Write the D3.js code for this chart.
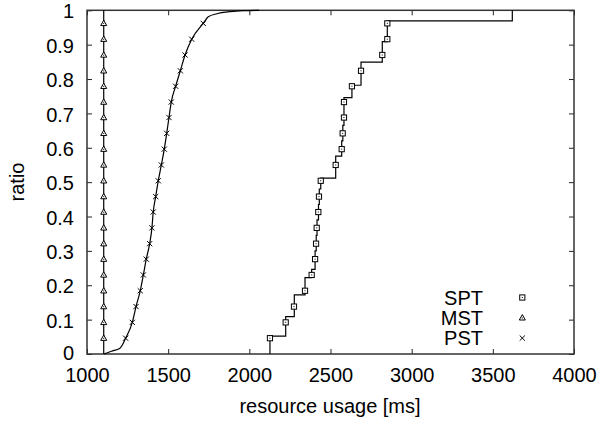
<!DOCTYPE html>
<html><head><meta charset="utf-8">
<script src="https://cdn.jsdelivr.net/npm/d3@7"></script>
<style>
body{margin:0;background:#fff}
svg{display:block}
text{font-family:"Liberation Sans",Arial,Helvetica,sans-serif;fill:#000}
</style>
</head><body>
<svg id="chart" width="598" height="423"></svg>
<script>
// ---- data ----
const xTicks = [1000, 1500, 2000, 2500, 3000, 3500, 4000];
const yTicks = [0, 0.1, 0.2, 0.3, 0.4, 0.5, 0.6, 0.7, 0.8, 0.9, 1];
const seriesNames = ["SPT", "MST", "PST"];

// ratio levels at which the point symbols are drawn (shared by all series)
const markerRatios = [0.046, 0.092, 0.138, 0.184, 0.230, 0.276, 0.321, 0.367, 0.413, 0.458, 0.504,
                      0.550, 0.596, 0.642, 0.688, 0.733, 0.779, 0.824, 0.870, 0.916, 0.962];

// SPT: step curve + symbols
const sptStepX = [2127, 2127, 2224, 2277, 2343, 2384, 2405, 2412, 2417, 2426, 2431, 2440, 2532, 2569, 2576, 2583, 2632, 2688, 2819, 2850, 3620];
const sptStepY = [0, 0.052, 0.109, 0.172, 0.222, 0.246, 0.300, 0.345, 0.390, 0.435, 0.480, 0.512, 0.576, 0.620, 0.665, 0.746, 0.782, 0.849, 0.909, 0.969, 1.0];
const sptMarkX = [2127, 2224, 2275, 2343, 2384, 2405, 2411, 2415, 2425, 2429, 2440, 2532, 2569, 2575, 2583, 2583, 2632, 2688, 2819, 2850, 2850];

// MST: vertical line + symbols
const mstLineX = [1103, 1103];
const mstLineY = [0, 1];
const mstMarkX = [1103, 1103, 1103, 1103, 1103, 1103, 1103, 1103, 1103, 1103, 1103,
                  1103, 1103, 1103, 1103, 1103, 1103, 1103, 1103, 1103, 1103];

// PST: smooth curve + symbols
const pstMarkX = [1238, 1279, 1302, 1328, 1347, 1365, 1386, 1400, 1408, 1423, 1439,
                  1458, 1476, 1491, 1505, 1519, 1546, 1575, 1604, 1645, 1716];
const pstLineX = [1105, 1150, 1203, 1238, 1279, 1302, 1328, 1347, 1365, 1386, 1400, 1408, 1423, 1439,
                  1458, 1476, 1491, 1505, 1519, 1546, 1575, 1604, 1645, 1716, 1747, 1800, 1881, 1960, 2060];
const pstLineY = [0, 0.008, 0.017, 0.046, 0.092, 0.138, 0.184, 0.230, 0.276, 0.321, 0.367, 0.413, 0.458, 0.504,
                  0.550, 0.596, 0.642, 0.688, 0.733, 0.779, 0.824, 0.870, 0.916, 0.962, 0.981, 0.990, 0.996, 0.999, 1.0];

// ---- drawing ----
const svg = d3.select("#chart");
const L = 87, R = 574, T = 10.3, B = 354;
const x = d3.scaleLinear().domain([1000, 4000]).range([L, R]);
const y = d3.scaleLinear().domain([0, 1]).range([B, T]);
const FS = 20;

// axes with inward ticks
const gx = svg.append("g").attr("transform", `translate(0,${B})`)
  .call(d3.axisBottom(x).tickValues(xTicks).tickFormat(d3.format("d")).tickSize(-5).tickSizeOuter(0).tickPadding(13.6));
const gy = svg.append("g").attr("transform", `translate(${L},0)`)
  .call(d3.axisLeft(y).tickValues(yTicks).tickFormat(d => d === 0 ? "0" : (d === 1 ? "1" : d3.format(".1f")(d))).tickSize(-5).tickSizeOuter(0).tickPadding(13));
const gt = svg.append("g").attr("transform", `translate(0,${T})`)
  .call(d3.axisTop(x).tickValues(xTicks).tickFormat("").tickSize(-5).tickSizeOuter(0));
const gr = svg.append("g").attr("transform", `translate(${R},0)`)
  .call(d3.axisRight(y).tickValues(yTicks).tickFormat("").tickSize(-5).tickSizeOuter(0));
[gx, gy, gt, gr].forEach(g => {
  g.select(".domain").remove();
  g.selectAll(".tick line").attr("stroke", "#222").attr("stroke-width", 1);
  g.selectAll("text").attr("font-size", FS).attr("font-family", '"Liberation Sans",Arial,sans-serif').attr("fill", "#000");
});
gy.selectAll("text").attr("dy", "0.38em");
// nudge the "0" label up slightly so it does not collide with "1000"
gy.selectAll(".tick").filter(d => d === 0).select("text").attr("y", -2.6);

// border
svg.append("rect").attr("x", L).attr("y", T).attr("width", R - L).attr("height", B - T)
  .attr("fill", "none").attr("stroke", "#333").attr("stroke-width", 1.5);

// axis titles
svg.append("text").attr("x", (L + R) / 2 - 0.5).attr("y", 413).attr("text-anchor", "middle")
  .attr("font-size", FS).text("resource usage [ms]");
svg.append("text").attr("transform", `translate(23.5,${182}) rotate(-90)`).attr("text-anchor", "middle")
  .attr("font-size", FS).text("ratio");

const plot = svg.append("g");

// lines
const stepLine = d3.line().x(d => x(d[0])).y(d => y(d[1])).curve(d3.curveStepAfter);
const smoothLine = d3.line().x(d => x(d[0])).y(d => y(d[1])).curve(d3.curveMonotoneX);
const straight = d3.line().x(d => x(d[0])).y(d => y(d[1]));

plot.append("path").datum(d3.zip(sptStepX, sptStepY)).attr("d", stepLine)
  .attr("fill", "none").attr("stroke", "#000").attr("stroke-width", 1.2);
plot.append("path").datum(d3.zip(mstLineX, mstLineY)).attr("d", straight)
  .attr("fill", "none").attr("stroke", "#000").attr("stroke-width", 1.2);
plot.append("path").datum(d3.zip(pstLineX, pstLineY)).attr("d", smoothLine)
  .attr("fill", "none").attr("stroke", "#000").attr("stroke-width", 1.2);

// symbols
function square(g, cx, cy) {
  g.append("rect").attr("x", cx - 2.6).attr("y", cy - 2.6).attr("width", 5.2).attr("height", 5.2)
    .attr("fill", "#fff").attr("stroke", "#000").attr("stroke-width", 1);
  g.append("rect").attr("x", cx - 0.5).attr("y", cy - 0.5).attr("width", 1).attr("height", 1).attr("fill", "#000");
}
function triangle(g, cx, cy) {
  g.append("path").attr("d", `M${cx},${cy - 3.2}L${cx + 3},${cy + 2.2}L${cx - 3},${cy + 2.2}Z`)
    .attr("fill", "#fff").attr("stroke", "#000").attr("stroke-width", 1);
  g.append("rect").attr("x", cx - 0.5).attr("y", cy - 0.3).attr("width", 1).attr("height", 1).attr("fill", "#000");
}
function cross(g, cx, cy) {
  g.append("path").attr("d", `M${cx - 2.6},${cy - 2.6}L${cx + 2.6},${cy + 2.6}M${cx - 2.6},${cy + 2.6}L${cx + 2.6},${cy - 2.6}`)
    .attr("stroke", "#000").attr("stroke-width", 1);
}
const symbols = [square, triangle, cross];

markerRatios.forEach((r, i) => {
  triangle(plot, x(mstMarkX[i]), y(r));
  cross(plot, x(pstMarkX[i]), y(r));
  square(plot, x(sptMarkX[i]), y(r));
});

// legend
const leg = svg.append("g");
seriesNames.forEach((name, i) => {
  const cy = 297.5 + i * 20.3;
  leg.append("text").attr("x", 483).attr("y", cy).attr("dy", "0.35em").attr("text-anchor", "end")
    .attr("font-size", FS).text(name);
  symbols[i](leg, 522.3, cy);
});
</script>
</body></html>
